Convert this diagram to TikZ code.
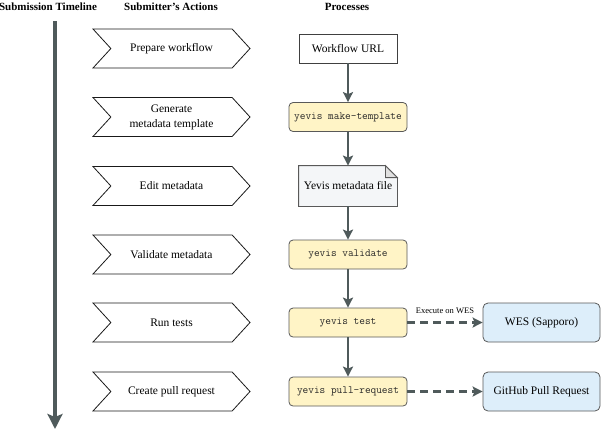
\documentclass[tikz,border=0pt]{standalone}
\usepackage{fontspec}
\setmainfont{Liberation Serif}
\usetikzlibrary{shapes.symbols,arrows.meta,backgrounds}
\definecolor{flowgray}{HTML}{4F5A5B}
\definecolor{cmdfill}{HTML}{FFF4C6}
\definecolor{notefill}{HTML}{F4F6F8}
\definecolor{extfill}{HTML}{DDEEFA}
\begin{document}
\begin{tikzpicture}[x=1pt,y=-1pt]
\tikzset{
    heading/.style={font=\bfseries\fontsize{11}{13}\selectfont},
    action/.style={draw=black!90, line width=0.8pt, signal, signal to=east, signal from=west,
        signal pointer angle=95, minimum width=157pt, minimum height=39pt,
        inner sep=0pt, align=center, font=\fontsize{11.5}{15}\selectfont},
    plainbox/.style={draw=black!75, line width=0.8pt, minimum width=98pt, minimum height=29pt,
        inner sep=0pt, font=\fontsize{11.5}{14}\selectfont},
    cmd/.style={draw=black!65, line width=0.8pt, fill=cmdfill, rounded corners=4pt, minimum width=118pt,
        minimum height=29pt, inner sep=0pt, text=black!85, font=\ttfamily\fontsize{11}{12}\selectfont},
    ext/.style={draw=black!65, line width=0.8pt, fill=extfill, rounded corners=5pt, minimum width=117pt,
        minimum height=39pt, inner sep=0pt, font=\fontsize{11.5}{14}\selectfont},
    flow/.style={draw=flowgray, line width=2pt, -{Stealth[length=10pt,width=10pt,inset=2pt]}},
    remote/.style={flow, line width=2.2pt, dash pattern=on 8pt off 5pt},
}
\useasboundingbox (0,0) rectangle (604,432);

% Column headings.
\node[heading] (hline) at (48,7)  {Submission Timeline};
\node[heading] (hact)  at (171,7) {Submitter's Actions};
\node[heading] (hproc) at (347,7) {Processes};

% The timeline itself.
\coordinate (tstart) at (55,21);
\coordinate (tend) at (55,429);
\draw[draw=flowgray, line width=3.5pt, -{Stealth[length=15pt,width=15pt,inset=3pt]}] (tstart) -- (tend);

% Submitter's actions, one per row.
\node[action] (prep)  at (171.5,48.5)  {Prepare workflow};
\node[action] (gen)   at (171.5,117)   {Generate\\metadata template};
\node[action] (edit)  at (171.5,186)   {Edit metadata};
\node[action] (valid) at (171.5,254.5) {Validate metadata};
\node[action] (run)   at (171.5,322.5) {Run tests};
\node[action] (pr)    at (171.5,391.5) {Create pull request};

% Processes next to them.
\node[plainbox] (url)      at (348,48.5)  {Workflow URL};
\node[cmd]      (mktmpl)   at (348,117)   {yevis make-template};
\node[plainbox, draw=none, minimum height=40pt] (metafile) at (348,186) {Yevis metadata file};
\node[cmd]      (validate) at (348,254.5) {yevis validate};
\node[cmd]      (test)     at (348,322.5) {yevis test};
\node[cmd]      (pullreq)  at (348,391.5) {yevis pull-request};

% The file gets a folded corner.
\begin{scope}[on background layer]
\filldraw[draw=black!65, line width=0.8pt, fill=notefill] (metafile.north west) -- ([xshift=-12pt]metafile.north east)
    -- ([yshift=-12pt]metafile.north east) -- (metafile.south east) -- (metafile.south west) -- cycle;
\filldraw[draw=black!65, line width=0.8pt, fill=black!12] ([xshift=-12pt]metafile.north east)
    -- ([xshift=-12pt,yshift=-12pt]metafile.north east) -- ([yshift=-12pt]metafile.north east) -- cycle;
\end{scope}

% Outside services.
\node[ext] (wes)    at (541.5,322.5) {WES (Sapporo)};
\node[ext] (github) at (541.5,391.5) {GitHub Pull Request};

% Connectors.
\draw[flow] (url) -- (mktmpl);
\draw[flow] (mktmpl) -- (metafile);
\draw[flow] (metafile) -- (validate);
\draw[flow] (validate) -- (test);
\draw[flow] (test) -- (pullreq);
\draw[remote] (test) -- node[above=4pt, font=\fontsize{8.5}{10}\selectfont] {Execute on WES} (wes);
\draw[remote] (pullreq) -- (github);
\end{tikzpicture}
\end{document}
